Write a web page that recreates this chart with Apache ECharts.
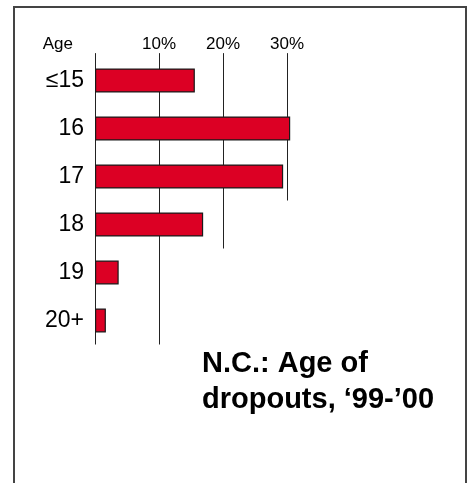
<!DOCTYPE html>
<html>
<head>
<meta charset="utf-8">
<script src="https://cdn.jsdelivr.net/npm/echarts@6/dist/echarts.min.js"></script>
<style>
html,body{margin:0;padding:0;background:#fff;}
#chart{width:471px;height:483px;}
</style>
</head>
<body>
<div id="chart"></div>
<script>
// Data
var categories = ['\u226415', '16', '17', '18', '19', '20+'];
var values = [15.6, 30.5, 29.4, 16.9, 3.7, 1.7];
var xTicks = [10, 20, 30];
// gridline value and where (in category-band units from top) each line ends
var gridValues = [0, 10, 20, 30];
var gridEnds = [6, 6, 4, 3];
var gridStart = -0.07;
var titleLines = ['N.C.: Age of', 'dropouts, \u201899-\u201900'];

var chart = echarts.init(document.getElementById('chart'), null, {renderer: 'canvas'});
var gridData = gridValues.map(function (v, i) { return [v, gridStart, gridEnds[i]]; });

var option = {
  animation: false,
  backgroundColor: '#ffffff',
  title: {
    text: titleLines.join('\n'),
    left: 197,
    top: 341,
    textStyle: {
      fontFamily: '"Liberation Sans", Arial, sans-serif',
      fontWeight: 'bold',
      fontSize: 29,
      lineHeight: 36,
      color: '#000'
    }
  },
  graphic: [{
    type: 'rect',
    shape: {x: 14, y: 7, width: 452, height: 500},
    style: {fill: 'none', stroke: '#444', lineWidth: 2},
    silent: true,
    z: 0
  }],
  grid: {left: 95, top: 56.5, width: 256, height: 288, containLabel: false},
  xAxis: {
    type: 'value',
    position: 'top',
    min: 0,
    max: 40,
    interval: 10,
    axisLine: {show: false},
    axisTick: {show: false},
    splitLine: {show: false},
    axisLabel: {
      margin: 4,
      fontFamily: '"Liberation Sans", Arial, sans-serif',
      fontSize: 17,
      color: '#000',
      formatter: function (v) { return xTicks.indexOf(v) >= 0 ? v + '%' : ''; }
    }
  },
  yAxis: [{
    type: 'category',
    data: categories,
    inverse: true,
    name: 'Age',
    nameLocation: 'start',
    nameGap: 4,
    nameTextStyle: {
      fontFamily: '"Liberation Sans", Arial, sans-serif',
      fontSize: 17,
      color: '#000',
      align: 'right',
      verticalAlign: 'bottom',
      padding: [0, 22, 0, 0]
    },
    axisLine: {show: false},
    axisTick: {show: false},
    splitLine: {show: false},
    axisLabel: {
      margin: 11,
      fontFamily: '"Liberation Sans", Arial, sans-serif',
      fontSize: 23,
      color: '#000'
    }
  }, {
    type: 'value',
    min: 0,
    max: 6,
    inverse: true,
    show: false
  }],
  series: [{
    type: 'custom',
    xAxisIndex: 0,
    yAxisIndex: 1,
    z: 1,
    clip: false,
    data: gridData,
    renderItem: function (params, api) {
      var p1 = api.coord([api.value(0), api.value(1)]);
      var p2 = api.coord([api.value(0), api.value(2)]);
      var x = Math.round(p1[0]) + 0.5;
      return {
        type: 'line',
        shape: {x1: x, y1: p1[1], x2: x, y2: p2[1]},
        style: {stroke: '#222', lineWidth: 1}
      };
    }
  }, {
    type: 'bar',
    yAxisIndex: 0,
    z: 3,
    data: values,
    barWidth: 24,
    itemStyle: {
      color: '#dc0024',
      borderColor: '#1a1a1a',
      borderWidth: 1.2
    }
  }]
};
chart.setOption(option);
</script>
</body>
</html>
